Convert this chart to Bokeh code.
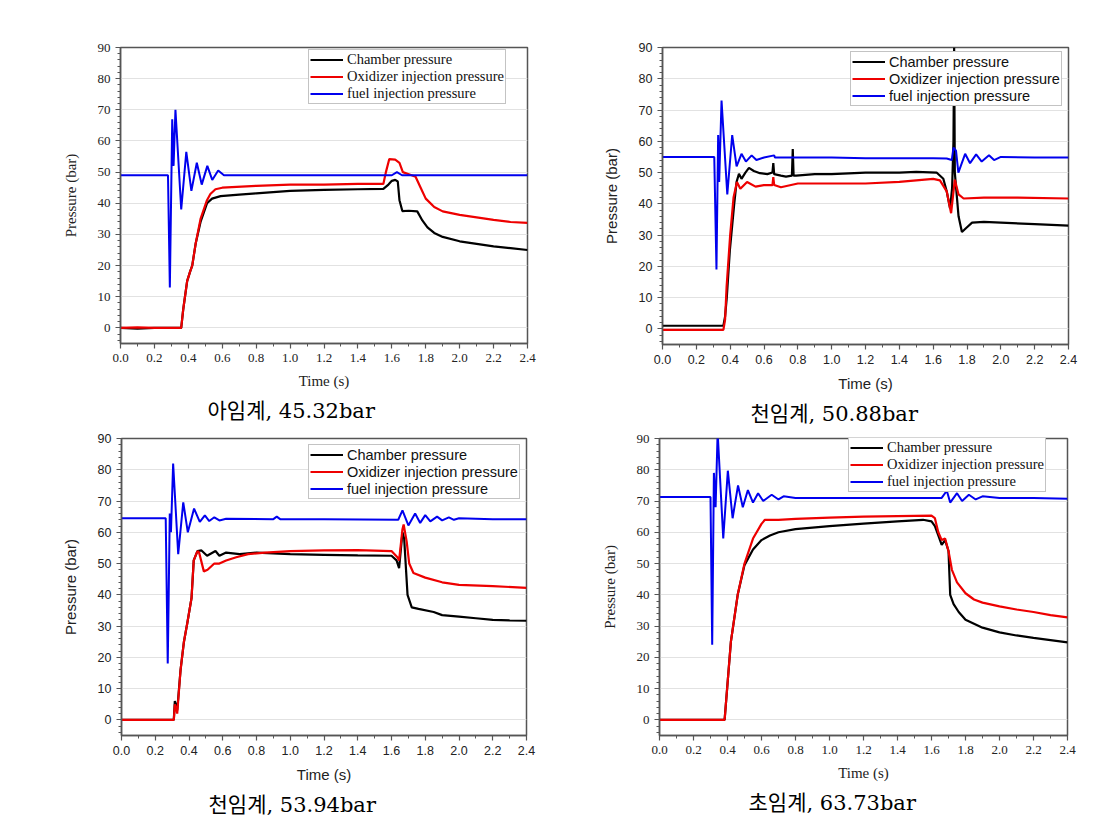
from bokeh.plotting import figure
from bokeh.layouts import column, row
from bokeh.models import Legend, LegendItem, Title, FixedTicker, Range1d, NumeralTickFormatter
from bokeh.embed import file_html
from bokeh.resources import INLINE

# ---------------- data ----------------
x_ticks = [0.0, 0.2, 0.4, 0.6, 0.8, 1.0, 1.2, 1.4, 1.6, 1.8, 2.0, 2.2, 2.4]
y_ticks = [0, 10, 20, 30, 40, 50, 60, 70, 80, 90]
series_names = ["Chamber pressure", "Oxidizer injection pressure", "fuel injection pressure"]
captions = ["아임계, 45.32bar", "천임계, 50.88bar", "천임계, 53.94bar", "초임계, 63.73bar"]

# Panel 1
p1_t_c = [0, 0.1, 0.2, 0.3, 0.358, 0.37, 0.393, 0.41, 0.423, 0.443, 0.472, 0.51, 0.54, 0.59, 0.7, 0.8, 1.0, 1.2, 1.4, 1.55, 1.58, 1.6, 1.62, 1.635, 1.645, 1.662, 1.70, 1.75, 1.78, 1.81, 1.85, 1.9, 2.0, 2.1, 2.2, 2.3, 2.4]
p1_c = [0, -0.2, 0, 0, 0, 6, 15, 18, 20, 27, 34, 40, 41.5, 42.3, 42.8, 43.2, 44, 44.3, 44.5, 44.6, 46, 47.2, 47.5, 47, 41, 37.5, 37.6, 37.4, 34.5, 32.3, 30.5, 29.2, 27.8, 27, 26.2, 25.6, 25]
p1_t_o = [0, 0.1, 0.2, 0.3, 0.358, 0.37, 0.393, 0.41, 0.423, 0.443, 0.472, 0.51, 0.53, 0.56, 0.6, 0.8, 1.0, 1.2, 1.4, 1.55, 1.565, 1.585, 1.62, 1.645, 1.665, 1.70, 1.74, 1.77, 1.80, 1.85, 1.9, 2.0, 2.1, 2.2, 2.3, 2.4]
p1_o = [0, 0.2, 0, 0, 0, 6, 15, 18, 20, 27, 35, 41, 43, 44.5, 45, 45.6, 46, 46, 46.2, 46.2, 50, 54.2, 54, 53, 50, 49.3, 48.5, 45, 41.5, 38.8, 37.4, 36.3, 35.5, 34.7, 34, 33.7]
p1_t_f = [0, 0.28, 0.291, 0.305, 0.313, 0.324, 0.358, 0.388, 0.418, 0.45, 0.479, 0.512, 0.541, 0.576, 0.61, 0.8, 1.0, 1.2, 1.4, 1.6, 1.63, 1.66, 1.8, 2.0, 2.2, 2.4]
p1_f = [49, 49, 13, 67, 52, 70, 38, 56.5, 44, 53, 46, 52, 47.5, 50.5, 49, 49, 49, 49, 49, 49, 50, 49, 49, 49, 49, 49]

# Panel 2
p2_t_c = [0, 0.2, 0.36, 0.37, 0.38, 0.398, 0.424, 0.438, 0.452, 0.467, 0.49, 0.511, 0.54, 0.576, 0.62, 0.65, 0.655, 0.66, 0.7, 0.73, 0.765, 0.77, 0.775, 0.79, 0.9, 1.0, 1.2, 1.4, 1.5, 1.62, 1.66, 1.68, 1.70, 1.712, 1.72, 1.724, 1.728, 1.75, 1.77, 1.8, 1.83, 1.9, 2.0, 2.2, 2.4]
p2_c = [1, 1, 1, 4, 10, 25, 40, 47, 49.6, 48, 50, 51.5, 50.5, 49.8, 49.5, 50, 53, 49.5, 49, 48.7, 49, 57.5, 49, 49, 49.5, 49.5, 50, 50, 50.2, 50, 48, 44, 38.5, 45, 60, 90, 50, 36, 31, 32.5, 34, 34.2, 34, 33.5, 33]
p2_t_o = [0, 0.2, 0.36, 0.37, 0.379, 0.4, 0.42, 0.44, 0.46, 0.5, 0.55, 0.6, 0.65, 0.655, 0.66, 0.7, 0.8, 1.0, 1.2, 1.4, 1.6, 1.64, 1.68, 1.706, 1.728, 1.75, 1.78, 1.9, 2.1, 2.4]
p2_o = [-0.3, -0.3, -0.3, 3, 13.5, 30, 42, 47, 44.8, 47, 45.5, 46, 46, 48.5, 46, 45.3, 46.5, 46.5, 46.5, 47, 48, 47.5, 44, 37, 47.7, 43, 41.7, 42, 42, 41.7]
p2_t_f = [0, 0.306, 0.319, 0.329, 0.335, 0.349, 0.383, 0.412, 0.438, 0.467, 0.493, 0.527, 0.555, 0.6, 0.66, 0.665, 0.8, 1.0, 1.2, 1.4, 1.6, 1.68, 1.71, 1.72, 1.735, 1.749, 1.789, 1.818, 1.854, 1.887, 1.93, 1.96, 2.0, 2.2, 2.4]
p2_f = [55, 55, 19, 62, 47, 73, 43, 62, 52, 56, 53.5, 55.5, 54, 54.8, 55.5, 54.8, 54.8, 54.8, 54.6, 54.6, 54.6, 54.5, 54, 58, 57, 50, 56, 53, 55.8, 53.5, 55.5, 54, 55, 54.8, 54.8]

# Panel 3
p3_t_c = [0, 0.2, 0.31, 0.316, 0.322, 0.33, 0.35, 0.37, 0.39, 0.415, 0.428, 0.45, 0.474, 0.507, 0.557, 0.58, 0.62, 0.7, 0.8, 1.0, 1.2, 1.4, 1.6, 1.63, 1.645, 1.665, 1.675, 1.695, 1.72, 1.76, 1.85, 1.9, 2.0, 2.1, 2.2, 2.3, 2.4]
p3_c = [0, 0, 0, 6, 5, 3, 16, 25, 31, 39, 51, 54, 54.2, 52.5, 54, 52.5, 53.5, 53, 53.5, 53, 52.8, 52.6, 52.5, 51, 48.5, 60, 58, 40, 36, 35.5, 34.5, 33.5, 33, 32.5, 32, 31.8, 31.7]
p3_t_o = [0, 0.2, 0.31, 0.316, 0.322, 0.33, 0.35, 0.37, 0.39, 0.415, 0.428, 0.45, 0.46, 0.488, 0.51, 0.55, 0.58, 0.62, 0.68, 0.75, 0.85, 1.0, 1.2, 1.4, 1.6, 1.635, 1.645, 1.665, 1.672, 1.69, 1.705, 1.73, 1.8, 1.9, 2.0, 2.2, 2.4]
p3_o = [0, 0, 0, 5, 4, 2, 16, 25, 31, 39, 51, 54, 53.5, 47.5, 48, 50, 50, 51, 52, 53, 53.5, 54, 54.2, 54.3, 54, 52, 51, 61, 62.5, 57, 50, 47, 45.5, 44, 43.2, 42.8, 42.2]
p3_t_f = [0, 0.262, 0.274, 0.279, 0.286, 0.293, 0.306, 0.336, 0.366, 0.393, 0.43, 0.464, 0.494, 0.52, 0.55, 0.58, 0.62, 0.9, 0.92, 0.94, 1.2, 1.64, 1.665, 1.7, 1.74, 1.77, 1.8, 1.83, 1.87, 1.9, 1.94, 1.97, 2.0, 2.2, 2.4]
p3_f = [64.5, 64.5, 18, 37, 66, 60, 82, 53, 69.6, 60, 67.6, 63.3, 65.4, 63.6, 64.8, 63.8, 64.3, 64.2, 65, 64.2, 64.2, 64, 67, 62.2, 66, 63, 65.5, 63.5, 65, 63.8, 64.8, 64, 64.5, 64.2, 64.2]

# Panel 4
p4_t_c = [0, 0.2, 0.383, 0.42, 0.46, 0.5, 0.55, 0.6, 0.65, 0.7, 0.8, 1.0, 1.2, 1.4, 1.55, 1.6, 1.62, 1.64, 1.66, 1.68, 1.70, 1.71, 1.73, 1.76, 1.8, 1.9, 2.0, 2.1, 2.2, 2.3, 2.4]
p4_c = [0, 0, 0, 25, 40, 49.5, 54.5, 57.5, 59, 60, 61, 62, 62.8, 63.5, 64, 63.5, 62, 59, 56, 57.5, 54, 40, 37, 34.5, 32, 29.5, 28, 27, 26.2, 25.5, 24.8]
p4_t_o = [0, 0.2, 0.383, 0.42, 0.46, 0.5, 0.55, 0.6, 0.62, 0.7, 0.8, 1.0, 1.2, 1.4, 1.6, 1.62, 1.64, 1.66, 1.68, 1.7, 1.72, 1.75, 1.8, 1.85, 1.9, 2.0, 2.1, 2.2, 2.3, 2.4]
p4_o = [0, 0, 0, 25, 40, 50, 58, 62.7, 64, 64, 64.3, 64.7, 65, 65.2, 65.3, 64.5, 60, 57.5, 58, 54, 48, 44, 40.5, 38.5, 37.5, 36.3, 35.3, 34.5, 33.5, 32.8]
p4_t_f = [0, 0.3, 0.31, 0.32, 0.33, 0.342, 0.375, 0.402, 0.43, 0.462, 0.49, 0.52, 0.55, 0.58, 0.61, 0.66, 0.7, 0.73, 0.8, 1.0, 1.2, 1.4, 1.66, 1.69, 1.71, 1.75, 1.78, 1.82, 1.86, 1.9, 2.0, 2.2, 2.4]
p4_f = [71.3, 71.3, 24, 79, 68, 92, 58, 79.7, 64.5, 75, 68, 73.5, 69.5, 72.5, 70, 72, 70.5, 71.5, 71, 71, 71, 71, 71, 73.3, 69.5, 72.5, 70, 72, 70.5, 71.5, 71, 71, 70.7]

SERIF = "Liberation Serif"
SANS = "Liberation Sans"
CAP_FONT = "DejaVu Serif, Noto Sans CJK KR"


def make_panel(tc, c, to, o, tf, f, caption, font, fs_tick, fs_lab, fs_leg,
               fw, fh, bl, br, bt, bb, leg_loc, ylab_standoff, cap_offset):
    p = figure(frame_width=fw, frame_height=fh,
               x_range=Range1d(0, 2.4), y_range=Range1d(-5, 90),
               output_backend="svg", toolbar_location=None,
               min_border_left=bl, min_border_right=br,
               min_border_top=bt, min_border_bottom=bb,
               background_fill_color="white", border_fill_color="white")
    rc = p.line(tc, c, line_color="black", line_width=2.2)
    ro = p.line(to, o, line_color="#ee0000", line_width=2.2)
    rf = p.line(tf, f, line_color="#0000ee", line_width=2.0)

    minor_x = [round(0.1 + 0.2 * i, 2) for i in range(12)]
    minor_y = [v for v in range(-4, 91, 2) if v % 10 != 0]
    p.xaxis.ticker = FixedTicker(ticks=x_ticks, minor_ticks=minor_x)
    p.yaxis.ticker = FixedTicker(ticks=y_ticks, minor_ticks=minor_y)
    p.xaxis.formatter = NumeralTickFormatter(format="0.0")
    p.xgrid.visible = False
    p.ygrid.ticker = FixedTicker(ticks=y_ticks)
    p.ygrid.grid_line_color = "#e2e2e2"
    p.ygrid.grid_line_width = 1

    for ax in (p.xaxis[0], p.yaxis[0]):
        ax.axis_line_color = "#555555"
        ax.axis_line_width = 1.5
        ax.major_tick_line_color = "#555555"
        ax.minor_tick_line_color = "#555555"
        ax.major_tick_line_width = 1.2
        ax.major_tick_in = 0
        ax.major_tick_out = 5
        ax.minor_tick_in = 0
        ax.minor_tick_out = 3
        ax.major_label_text_font = font
        ax.major_label_text_font_size = fs_tick
        ax.major_label_text_color = "#222222"
        ax.major_label_standoff = 5
        ax.axis_label_text_font = font
        ax.axis_label_text_font_size = fs_lab
        ax.axis_label_text_font_style = "normal"
        ax.axis_label_text_color = "#222222"
    p.xaxis.axis_label = "Time (s)"
    p.yaxis.axis_label = "Pressure (bar)"
    p.xaxis.axis_label_standoff = 8
    p.yaxis.axis_label_standoff = ylab_standoff

    p.outline_line_color = "#555555"
    p.outline_line_width = 1.5
    p.outline_line_alpha = 1.0

    legend = Legend(items=[LegendItem(label=series_names[0], renderers=[rc]),
                           LegendItem(label=series_names[1], renderers=[ro]),
                           LegendItem(label=series_names[2], renderers=[rf])],
                    location=leg_loc, margin=0, padding=1, spacing=0,
                    glyph_width=33, glyph_height=17, label_height=17,
                    label_standoff=4, label_text_font=font,
                    label_text_font_size=fs_leg, label_text_color="#111111",
                    border_line_color="#888888", border_line_width=1.5,
                    background_fill_color="white", background_fill_alpha=1.0)
    p.add_layout(legend)

    cap = Title(text=caption, align="left", offset=cap_offset,
                text_font=CAP_FONT, text_font_size="21px",
                text_font_style="normal", text_color="black")
    p.add_layout(cap, "below")
    return p


p1 = make_panel(p1_t_c, p1_c, p1_t_o, p1_o, p1_t_f, p1_f, captions[0], SERIF,
                "13px", "15px", "14.5px", 407, 296, 120, 72, 47, 87, (188, 239), 16, 87)
p2 = make_panel(p2_t_c, p2_c, p2_t_o, p2_o, p2_t_f, p2_f, captions[1], SANS,
                "12.5px", "15px", "14.5px", 406, 297, 60, 20, 47, 86, (188, 238), 16, 88)
p3 = make_panel(p3_t_c, p3_c, p3_t_o, p3_o, p3_t_f, p3_f, captions[2], SANS,
                "12.5px", "15px", "14.5px", 405, 297, 121, 72, 8, 78, (187, 236), 16, 87)
p4 = make_panel(p4_t_c, p4_c, p4_t_o, p4_o, p4_t_f, p4_f, captions[3], SERIF,
                "13px", "15px", "14.5px", 408, 297, 60, 20, 8, 78, (189, 243), 16, 89)

layout = column(row(p1, p2), row(p3, p4))
open("out.html", "w").write(file_html(layout, INLINE))
